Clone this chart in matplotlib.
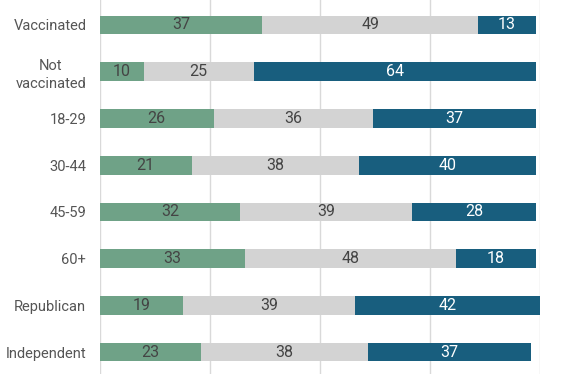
import matplotlib
matplotlib.use('Agg')
from matplotlib import pyplot as plt
import numpy as np

categories = ['Vaccinated', 'Not\nvaccinated', '18-29', '30-44', '45-59', '60+', 'Republican', 'Independent']
green_vals = [37, 10, 26, 21, 32, 33, 19, 23]
gray_vals = [49, 25, 36, 38, 39, 48, 39, 38]
blue_vals = [13, 64, 37, 40, 28, 18, 42, 37]

plt.rcParams['font.family'] = ['Roboto', 'DejaVu Sans']

fig = plt.figure(figsize=(5.62, 3.74), dpi=100)
ax = fig.add_axes([99.5 / 562, 0, 440.5 / 562, 1])

y = np.arange(len(categories))
h = 0.4
series = [(green_vals, '#6fa287', '#444444'),
          (gray_vals, '#d3d3d3', '#444444'),
          (blue_vals, '#185e7e', 'white')]
left = np.zeros(len(categories))
for vals, col, tcol in series:
    vals = np.array(vals)
    ax.barh(y, vals, left=left, height=h, color=col, zorder=2)
    for yi, (l, v) in enumerate(zip(left, vals)):
        ax.text(l + v / 2, yi, str(v), ha='center', va='center',
                color=tcol, fontsize=11.5, zorder=3)
    left = left + vals

ax.set_xlim(0, 100)
ax.set_ylim(7.47, -0.535)
ax.set_xticks([0, 25, 50, 75, 100])
ax.xaxis.grid(True, color='#d9d9d9', linewidth=1, zorder=0)
ax.tick_params(axis='x', bottom=False, labelbottom=False)
ax.set_yticks(y)
ax.set_yticklabels(categories, fontsize=10.5, color='#555555')
ax.tick_params(axis='y', left=False, length=0, pad=9.5)
for lbl in ax.get_yticklabels():
    lbl.set_multialignment('center')
    lbl.set_linespacing(1.35)
for s in ax.spines.values():
    s.set_visible(False)

fig.savefig('out.png', dpi=100)
